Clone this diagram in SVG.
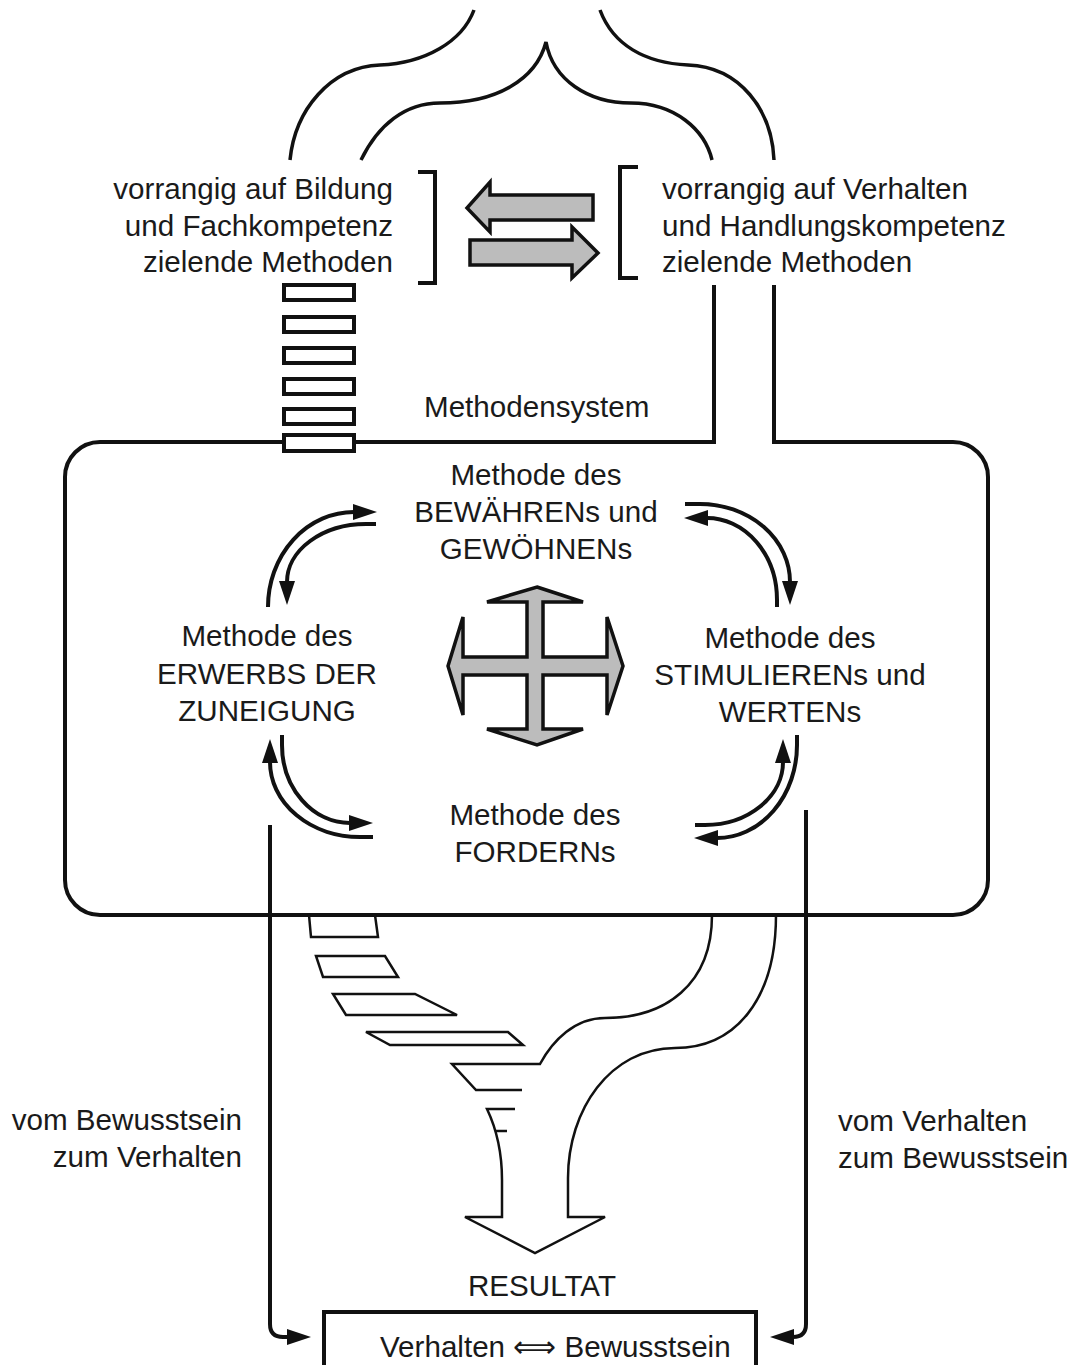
<svg xmlns="http://www.w3.org/2000/svg" width="1075" height="1365" viewBox="0 0 1075 1365">
<defs>
<style>
text{font-family:"Liberation Sans",Arial,sans-serif;font-size:29.6px;fill:#1a1a1a}
.mid{text-anchor:middle}
.end{text-anchor:end}
.ln{fill:none;stroke:#111;stroke-width:4}
.tc{fill:none;stroke:#111;stroke-width:3.5}
.th{fill:none;stroke:#111;stroke-width:2.5;stroke-linejoin:miter}
.gray{fill:#bcbcbc;stroke:#111;stroke-width:3.5;stroke-linejoin:miter}
.rung{fill:#fff;stroke:#111;stroke-width:4}
</style>
<marker id="ah" viewBox="0 0 24 16" refX="1" refY="8" markerWidth="24" markerHeight="16" orient="auto" markerUnits="userSpaceOnUse"><path d="M0,0 L24,8 L0,16 z" fill="#111"/></marker>
</defs>
<rect width="1075" height="1365" fill="#fff"/>

<g id="connectors">
  <!-- top braces -->
  <path class="tc" d="M290,160 C295,110 330,67 380,65 C425,63 462,42 474,10"/>
  <path class="tc" d="M361,160 C378,125 405,103 440,103 C496,103 536,80 546,42 C553,80 588,103 631,103 C675,103 705,130 712,160"/>
  <path class="tc" d="M600,10 C613,45 645,63 688,65 C740,67 772,110 774,160"/>
  <!-- brackets -->
  <path class="ln" d="M418,172 L435,172 L435,283 L418,283"/>
  <path class="ln" d="M638,167 L620,167 L620,278 L638,278"/>
  <!-- exchange arrows -->
  <polygon class="gray" points="593,195 490,195 490,182 467,208 490,232 490,220 593,220"/>
  <polygon class="gray" points="470,240 572,240 572,227 598,253 572,278 572,265 470,265"/>
  <!-- main frame (Methodensystem) -->
  <path class="ln" d="M714,285 L714,442 L100,442 A35,35 0 0 0 65,477 L65,880 A35,35 0 0 0 100,915 L953,915 A35,35 0 0 0 988,880 L988,477 A35,35 0 0 0 953,442 L774,442 L774,285"/>
  <!-- ladder -->
  <rect class="rung" x="284" y="285" width="70" height="15"/>
  <rect class="rung" x="284" y="317" width="70" height="15"/>
  <rect class="rung" x="284" y="348" width="70" height="15"/>
  <rect class="rung" x="284" y="379" width="70" height="15"/>
  <rect class="rung" x="284" y="409" width="70" height="15"/>
  <rect class="rung" x="284" y="435" width="70" height="16"/>
  <!-- corner double arrows -->
  <path class="ln" d="M268,607 A86,95 0 0 1 354,512" marker-end="url(#ah)"/>
  <path class="ln" d="M376,524 L366,524 A79,58 0 0 0 287,582" marker-end="url(#ah)"/>
  <path class="ln" d="M685,504 L700,504 A90,78 0 0 1 790,582" marker-end="url(#ah)"/>
  <path class="ln" d="M777,607 L777,600 A70,82 0 0 0 707,518" marker-end="url(#ah)"/>
  <path class="ln" d="M373,837 L360,837 A90,75 0 0 1 270,762" marker-end="url(#ah)"/>
  <path class="ln" d="M282,735 L282,745 A68,78 0 0 0 350,823" marker-end="url(#ah)"/>
  <path class="ln" d="M797,735 L797,745 A80,93 0 0 1 717,838" marker-end="url(#ah)"/>
  <path class="ln" d="M695,825 L705,825 A78,63 0 0 0 783,762" marker-end="url(#ah)"/>
  <!-- funnel below frame -->
  <polygon class="th" points="309,915 375,915 378,937 311,937"/>
  <polygon class="th" points="316,956 385,956 398,977 323,977"/>
  <polygon class="th" points="333,994 415,994 457,1015 346,1015"/>
  <polygon class="th" points="366,1032 508,1032 523,1045 390,1045"/>
  <path class="th" d="M712,915 C712,985 665,1018 605,1018 C575,1018 553,1040 540,1064 L452,1064 L476,1090 L522,1090"/>
  <path class="th" d="M515,1109 L487,1109 C497,1130 502,1155 502,1180 L502,1217 L465,1217 L535,1253 L605,1217 L568,1217 L568,1178 C568,1110 610,1048 675,1048 C735,1048 776,1000 776,915"/>
  <path class="th" d="M496,1131 L507,1131"/>
  <!-- side return arrows -->
  <path class="ln" d="M270,825 L270,1324 Q270,1337 283,1337 L288,1337" marker-end="url(#ah)"/>
  <path class="ln" d="M806,810 L806,1324 Q806,1337 793,1337" marker-end="url(#ah)"/>
</g>

<g id="node-bildung">
  <text class="end" x="393" y="199">vorrangig auf Bildung</text>
  <text class="end" x="393" y="236">und Fachkompetenz</text>
  <text class="end" x="393" y="272">zielende Methoden</text>
</g>
<g id="node-verhalten">
  <text x="662" y="199">vorrangig auf Verhalten</text>
  <text x="662" y="236">und Handlungskompetenz</text>
  <text x="662" y="272">zielende Methoden</text>
</g>
<g id="node-methodensystem">
  <text x="424" y="417">Methodensystem</text>
</g>
<g id="node-bewaehren">
  <text class="mid" x="536" y="485">Methode des</text>
  <text class="mid" x="536" y="522">BEWÄHRENs und</text>
  <text class="mid" x="536" y="559">GEWÖHNENs</text>
</g>
<g id="node-zuneigung">
  <text class="mid" x="267" y="646">Methode des</text>
  <text class="mid" x="267" y="684">ERWERBS DER</text>
  <text class="mid" x="267" y="721">ZUNEIGUNG</text>
</g>
<g id="node-stimulieren">
  <text class="mid" x="790" y="648">Methode des</text>
  <text class="mid" x="790" y="685">STIMULIERENs und</text>
  <text class="mid" x="790" y="722">WERTENs</text>
</g>
<g id="node-fordern">
  <text class="mid" x="535" y="825">Methode des</text>
  <text class="mid" x="535" y="862">FORDERNs</text>
</g>
<g id="node-cross">
  <polygon class="gray" points="537,587 583,602 543,602 543,657 607,657 607,617 623,666 607,715 607,675 543,675 543,729 583,729 537,745 487,729 527,729 527,675 463,675 463,715 448,666 463,617 463,657 527,657 527,602 487,602"/>
</g>
<g id="node-left-label">
  <text class="end" x="242" y="1130">vom Bewusstsein</text>
  <text class="end" x="242" y="1167">zum Verhalten</text>
</g>
<g id="node-right-label">
  <text x="838" y="1131">vom Verhalten</text>
  <text x="838" y="1168">zum Bewusstsein</text>
</g>
<g id="node-resultat">
  <text class="mid" x="542" y="1296">RESULTAT</text>
</g>
<g id="node-result-box">
  <rect class="ln" x="324" y="1312" width="432" height="70"/>
  <text x="380" y="1357">Verhalten ⟺ Bewusstsein</text>
</g>
</svg>
